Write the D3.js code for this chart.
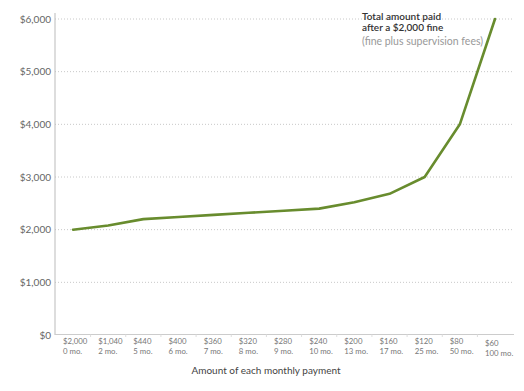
<!DOCTYPE html>
<html><head><meta charset="utf-8">
<script src="https://cdn.jsdelivr.net/npm/d3@7"></script>
<style>
body{margin:0;background:#fff;}
svg{display:block;font-family:Lato,"Open Sans",sans-serif;}
</style></head>
<body><svg id="c" width="524" height="391"></svg>
<script>
const payments = ["$2,000","$1,040","$440","$400","$360","$320","$280","$240","$200","$160","$120","$80","$60"];
const months = ["0 mo.","2 mo.","5 mo.","6 mo.","7 mo.","8 mo.","9 mo.","10 mo.","13 mo.","17 mo.","25 mo.","50 mo.","100 mo."];
const totals = [2000,2080,2200,2240,2280,2320,2360,2400,2520,2680,3000,4000,6000];
const yTicks = [0,1000,2000,3000,4000,5000,6000];

const svg = d3.select("#c");
const mLeft = 55, mRight = 514, mTop = 19, mBottom = 335;
const x = d3.scalePoint().domain(payments).range([73, 495]);
const y = d3.scaleLinear().domain([0, 6000]).range([mBottom, mTop]);

// gridlines
svg.append("g").selectAll("line").data(yTicks.filter(d => d > 0)).join("line")
  .attr("x1", mLeft).attr("x2", mRight)
  .attr("y1", d => y(d)).attr("y2", d => y(d))
  .attr("stroke", "#c8c8c8").attr("stroke-width", 1).attr("stroke-dasharray", "1,2");

// y axis
const ya = svg.append("g").attr("transform", `translate(${mLeft},0)`)
  .call(d3.axisLeft(y).tickValues(yTicks).tickSize(0).tickPadding(4).tickFormat(d => "$" + d3.format(",")(d)));
ya.select(".domain").attr("stroke", "#bbb").attr("d", `M0,${mTop-6}V${mBottom}`);
ya.selectAll("text").attr("font-size", 10).attr("fill", "#666").attr("font-family", "Lato,sans-serif");

// x axis
svg.append("line").attr("x1", mLeft).attr("x2", mRight).attr("y1", mBottom - 0.5).attr("y2", mBottom - 0.5)
  .attr("stroke", "#ccc").attr("stroke-width", 1);
const step = x.step();
svg.append("g").selectAll("line").data(payments.slice(1)).join("line")
  .attr("x1", d => x(d) - step / 2).attr("x2", d => x(d) - step / 2)
  .attr("y1", mBottom - 0.5).attr("y2", mBottom + 2)
  .attr("stroke", "#ddd");

const xl = svg.append("g").selectAll("text").data(payments).join("text")
  .attr("x", d => x(d) - 10)
  .attr("y", (d, i) => i === payments.length - 1 ? 346 : 344)
  .attr("font-size", 7.8).attr("fill", "#777");
xl.append("tspan").text(d => d);
xl.append("tspan").attr("x", d => x(d) - 10).attr("dy", 10).text((d, i) => months[i]);

svg.append("text").attr("x", 266).attr("y", 374).attr("text-anchor", "middle")
  .attr("font-size", 10).attr("fill", "#444").text("Amount of each monthly payment");

// line
const line = d3.line().x((d, i) => x(payments[i])).y(d => y(d));
svg.append("path").datum(totals).attr("d", line)
  .attr("fill", "none").attr("stroke", "#688c2e").attr("stroke-width", 2.6)
  .attr("stroke-linejoin", "round").attr("stroke-linecap", "round");

// annotation
const ann = svg.append("text").attr("x", 362).attr("y", 20).attr("font-size", 10);
ann.append("tspan").attr("x", 362).attr("fill", "#333").attr("font-weight", 600).text("Total amount paid");
ann.append("tspan").attr("x", 362).attr("dy", 11).attr("fill", "#333").attr("font-weight", 600).text("after a $2,000 fine");
ann.append("tspan").attr("x", 362).attr("dy", 14).attr("fill", "#999").attr("font-size", 10.5).text("(fine plus supervision fees)");
</script></body></html>
